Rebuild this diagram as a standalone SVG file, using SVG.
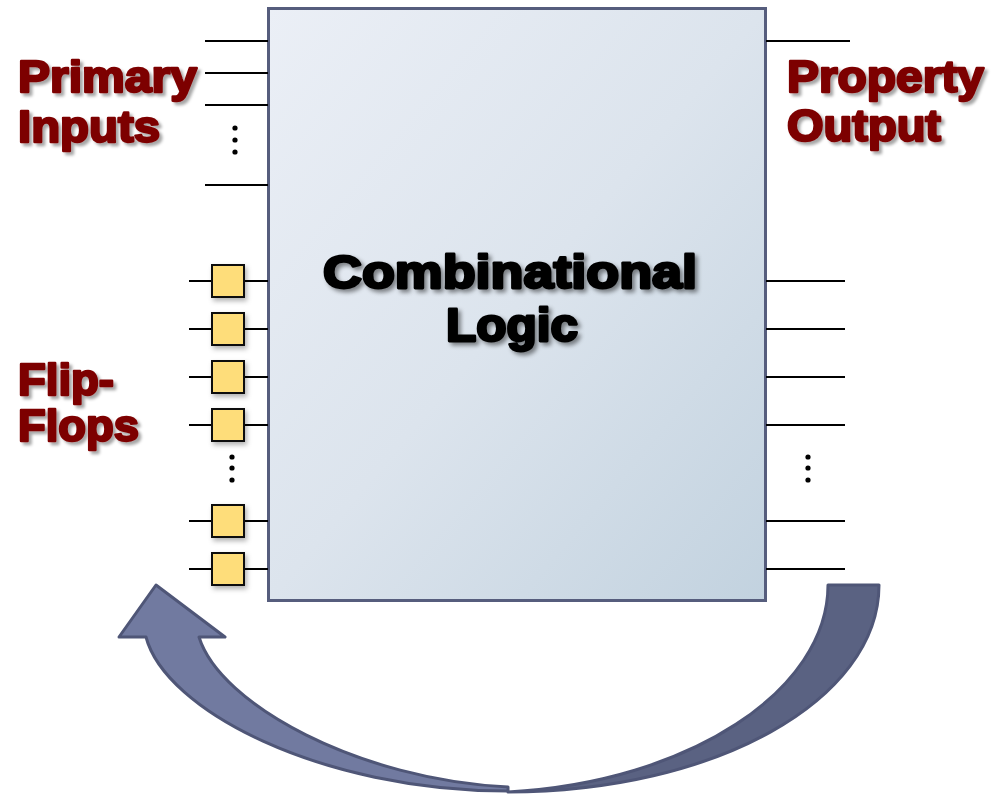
<svg xmlns="http://www.w3.org/2000/svg" width="1000" height="795" viewBox="0 0 1000 795">
  <defs>
    <linearGradient id="blockFill" x1="0" y1="0" x2="1" y2="1">
      <stop offset="0" stop-color="#ebeff6"/>
      <stop offset="0.5" stop-color="#dce4ed"/>
      <stop offset="1" stop-color="#c2d2df"/>
    </linearGradient>
    <filter id="labelShadow" x="-10%" y="-20%" width="130%" height="150%">
      <feDropShadow dx="3" dy="3" stdDeviation="1.8" flood-color="#000" flood-opacity="0.35"/>
    </filter>
    <filter id="titleShadow" x="-10%" y="-20%" width="130%" height="150%">
      <feDropShadow dx="3" dy="3" stdDeviation="2" flood-color="#000" flood-opacity="0.45"/>
    </filter>
    <filter id="boxShadow" x="-30%" y="-30%" width="170%" height="170%">
      <feDropShadow dx="2" dy="3" stdDeviation="2.5" flood-color="#000" flood-opacity="0.3"/>
    </filter>
    <style>
      .wire { stroke: #000; stroke-width: 2; fill: none; }
      .dot { fill: #000; }
      .ff { fill: #fedd7a; stroke: #111; stroke-width: 2; filter: url(#boxShadow); }
      .label { font-family: "Liberation Sans", Arial, sans-serif; font-weight: bold; font-size: 44px; fill: #7d0000; stroke: #7d0000; stroke-width: 2.4; stroke-linejoin: round; filter: url(#labelShadow); }
      .title { font-family: "Liberation Sans", Arial, sans-serif; font-weight: bold; font-size: 47px; fill: #000; stroke: #000; stroke-width: 2.8; stroke-linejoin: round; filter: url(#titleShadow); }
      .arrowFront { fill: #717aa0; stroke: #4f5677; stroke-width: 3; stroke-linejoin: round; }
      .arrowBack { fill: #5a6282; stroke: #4f5677; stroke-width: 3; stroke-linejoin: round; }
    </style>
  </defs>

  <!-- combinational logic block -->
  <g id="combinational-logic">
    <rect x="268.5" y="8.5" width="497" height="592" fill="url(#blockFill)" stroke="#565d7d" stroke-width="3"/>
    <text class="title" x="510" y="288" text-anchor="middle" textLength="374" lengthAdjust="spacingAndGlyphs">Combinational</text>
    <text class="title" x="512" y="341" text-anchor="middle" textLength="132" lengthAdjust="spacingAndGlyphs">Logic</text>
  </g>

  <!-- connectors: input, flip-flop and output wires -->
  <g id="connectors">
    <line class="wire" x1="205" y1="41" x2="268" y2="41"/>
    <line class="wire" x1="205" y1="73" x2="268" y2="73"/>
    <line class="wire" x1="205" y1="105" x2="268" y2="105"/>
    <line class="wire" x1="205" y1="185" x2="268" y2="185"/>

    <line class="wire" x1="189" y1="281" x2="268" y2="281"/>
    <line class="wire" x1="189" y1="329" x2="268" y2="329"/>
    <line class="wire" x1="189" y1="377" x2="268" y2="377"/>
    <line class="wire" x1="189" y1="425" x2="268" y2="425"/>
    <line class="wire" x1="189" y1="521" x2="268" y2="521"/>
    <line class="wire" x1="189" y1="569" x2="268" y2="569"/>

    <line class="wire" x1="766" y1="41" x2="850" y2="41"/>
    <line class="wire" x1="766" y1="281" x2="845" y2="281"/>
    <line class="wire" x1="766" y1="329" x2="845" y2="329"/>
    <line class="wire" x1="766" y1="377" x2="845" y2="377"/>
    <line class="wire" x1="766" y1="425" x2="845" y2="425"/>
    <line class="wire" x1="766" y1="521" x2="845" y2="521"/>
    <line class="wire" x1="766" y1="569" x2="845" y2="569"/>

    <circle class="dot" cx="235" cy="128" r="2.6"/>
    <circle class="dot" cx="235" cy="140" r="2.6"/>
    <circle class="dot" cx="235" cy="152" r="2.6"/>
    <circle class="dot" cx="232" cy="457" r="2.6"/>
    <circle class="dot" cx="232" cy="468" r="2.6"/>
    <circle class="dot" cx="232" cy="480" r="2.6"/>
    <circle class="dot" cx="808" cy="457" r="2.6"/>
    <circle class="dot" cx="808" cy="468" r="2.6"/>
    <circle class="dot" cx="808" cy="480" r="2.6"/>
  </g>

  <!-- flip-flop cells -->
  <g id="flip-flops">
    <rect class="ff" x="212" y="265" width="32" height="32"/>
    <rect class="ff" x="212" y="313" width="32" height="32"/>
    <rect class="ff" x="212" y="361" width="32" height="32"/>
    <rect class="ff" x="212" y="409" width="32" height="32"/>
    <rect class="ff" x="212" y="505" width="32" height="32"/>
    <rect class="ff" x="212" y="553" width="32" height="32"/>
  </g>

  <!-- feedback arrow from outputs back to the flip-flops -->
  <g id="feedback-arrow">
    <path class="arrowBack" d="M 828 585 L 879 585 C 879 700 715 792 508 792 C 690 782 828 690 828 585 Z"/>
    <path class="arrowFront" d="M 508 791 C 320 791 165 710 146 637 L 119 637 L 156 585 L 225 637 L 199 637 C 220 705 360 780 508 787 Z"/>
  </g>

  <!-- side labels -->
  <g id="label-primary-inputs">
    <text class="label" x="18" y="92" textLength="179" lengthAdjust="spacingAndGlyphs">Primary</text>
    <text class="label" x="18" y="142" textLength="142" lengthAdjust="spacingAndGlyphs">Inputs</text>
  </g>
  <g id="label-property-output">
    <text class="label" x="787" y="92" textLength="197" lengthAdjust="spacingAndGlyphs">Property</text>
    <text class="label" x="787" y="141" textLength="154" lengthAdjust="spacingAndGlyphs">Output</text>
  </g>
  <g id="label-flip-flops">
    <text class="label" x="18" y="395" textLength="96" lengthAdjust="spacingAndGlyphs">Flip-</text>
    <text class="label" x="18" y="441" textLength="121" lengthAdjust="spacingAndGlyphs">Flops</text>
  </g>
</svg>
